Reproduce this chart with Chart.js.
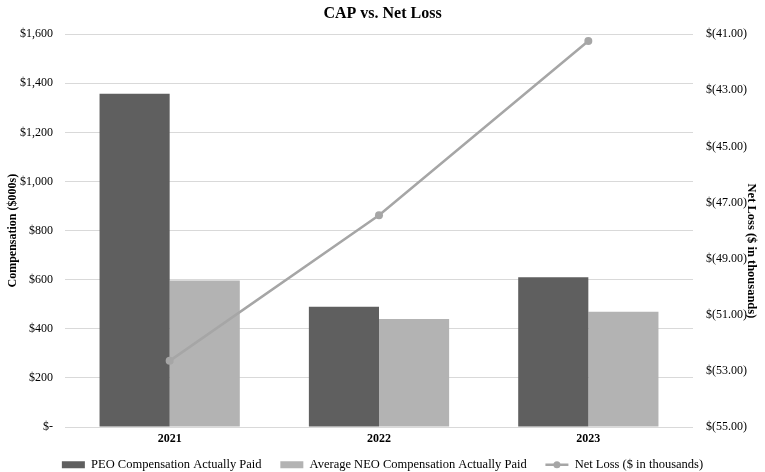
<!DOCTYPE html>
<html>
<head>
<meta charset="utf-8">
<script src="https://cdn.jsdelivr.net/npm/chart.js@4/dist/chart.umd.min.js"></script>
<style>
  html, body { margin: 0; padding: 0; background: #fff; }
  #wrap { width: 765px; height: 472px; position: relative; }
</style>
</head>
<body>
<div id="wrap"><canvas id="capChart"></canvas></div>
<script>
let Years = ["2021", "2022", "2023"];
let PeoCap = [1357, 490, 610];
let NeoCap = [597, 440, 470];
let NetLoss = [-52.64, -47.45, -41.24];

const darkGrey = "#5f5f5f";
const lightGrey = "#b3b3b3";
const lineGrey = "#a6a6a6";
const serif = "'Liberation Serif', 'Times New Roman', serif";

Chart.defaults.font.family = serif;
Chart.defaults.color = "#000";

// draws the round marker on the line legend item
const legendMarker = {
    id: "legendMarker",
    afterDraw(chart) {
        const boxes = chart.legend.legendHitBoxes;
        if (!boxes || !boxes[2]) return;
        const b = boxes[2];
        const ctx = chart.ctx;
        ctx.save();
        ctx.fillStyle = lineGrey;
        ctx.beginPath();
        ctx.arc(b.left + 11.5, b.top + b.height / 2, 3.5, 0, Math.PI * 2);
        ctx.fill();
        ctx.restore();
    }
};

new Chart("capChart", {
    type: "bar",
    data: {
        labels: Years,
        datasets: [{
            label: "PEO Compensation Actually Paid",
            data: PeoCap,
            backgroundColor: darkGrey,
            yAxisID: "y",
            order: 1
        }, {
            label: "Average NEO Compensation Actually Paid",
            data: NeoCap,
            backgroundColor: lightGrey,
            yAxisID: "y",
            order: 1
        }, {
            type: "line",
            label: "Net Loss ($ in thousands)",
            data: NetLoss,
            borderColor: lineGrey,
            backgroundColor: lineGrey,
            borderWidth: 2.5,
            pointRadius: 4,
            pointBackgroundColor: lineGrey,
            pointBorderWidth: 0,
            yAxisID: "y1",
            order: 0
        }]
    },
    plugins: [legendMarker],
    options: {
        responsive: true,
        maintainAspectRatio: false,
        animation: false,
        layout: {padding: {top: 0, bottom: -9, left: 0, right: 0}},
        datasets: {bar: {categoryPercentage: 0.67, barPercentage: 1}},
        plugins: {
            title: {
                display: true,
                text: "CAP vs. Net Loss",
                font: {size: 16, weight: "bold"},
                padding: {top: 4, bottom: 11}
            },
            legend: {
                position: "bottom",
                labels: {
                    usePointStyle: true,
                    pointStyleWidth: 23,
                    boxHeight: 7,
                    padding: 0,
                    font: {size: 12.5},
                    sort: (a, b) => a.datasetIndex - b.datasetIndex,
                    generateLabels(chart) {
                        const items = Chart.defaults.plugins.legend.labels.generateLabels(chart);
                        items.forEach(it => {
                            it.pointStyle = it.datasetIndex === 2 ? "line" : "rect";
                            it.lineWidth = it.datasetIndex === 2 ? 2.5 : 0;
                            if (it.datasetIndex < 2) it.text = it.text + "\u2003\u2002";
                        });
                        return items;
                    }
                }
            },
            tooltip: {enabled: false}
        },
        scales: {
            x: {
                grid: {display: false},
                border: {display: false},
                ticks: {font: {size: 12, weight: "bold"}, padding: -3},
                afterFit: s => { s.height += 15; }
            },
            y: {
                position: "left",
                min: 0,
                max: 1600,
                ticks: {
                    stepSize: 200,
                    font: {size: 12},
                    padding: 12,
                    callback: v => v === 0 ? "$-" : "$" + v.toLocaleString("en-US")
                },
                grid: {color: "#d9d9d9", drawTicks: false},
                border: {display: false},
                title: {display: true, text: "Compensation ($000s)", font: {size: 12, weight: "bold"}, padding: {top: 6, bottom: 0}},
                afterFit: s => { s.width = 65; }
            },
            y1: {
                position: "right",
                min: -55,
                max: -41,
                ticks: {
                    stepSize: 2,
                    font: {size: 12},
                    padding: 13,
                    callback: v => "$(" + Math.abs(v).toFixed(2) + ")"
                },
                grid: {display: false, drawTicks: false},
                border: {display: false},
                // leading spaces push the title down like in the original
                title: {display: true, text: "\u2003\u2003\u2003 Net Loss ($ in thousands)", font: {size: 12.5, weight: "bold"}, padding: {top: 6, bottom: 0}},
                afterFit: s => { s.width = 72; }
            }
        }
    }
});
</script>
</body>
</html>
